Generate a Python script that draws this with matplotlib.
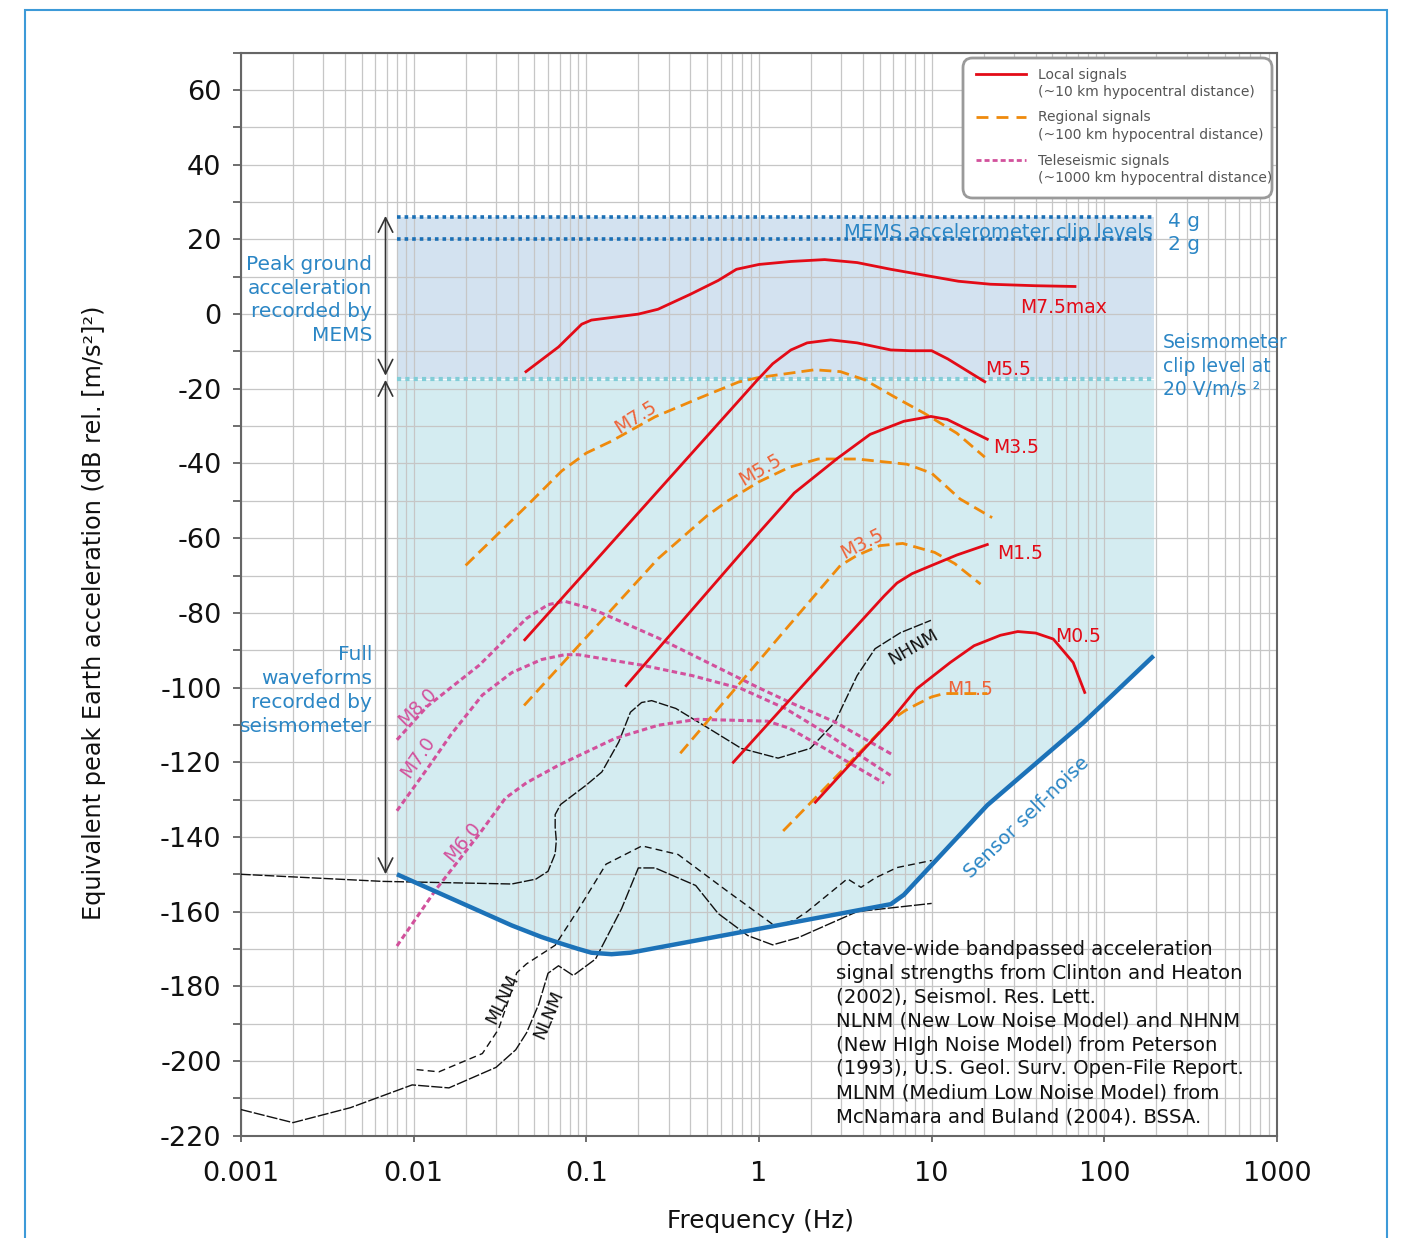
import numpy as np
import matplotlib
matplotlib.use('Agg')
import matplotlib.pyplot as plt
from matplotlib.patches import Rectangle, FancyBboxPatch
from matplotlib.lines import Line2D
from matplotlib.ticker import LogLocator, NullFormatter

plt.rcParams['font.family'] = ['DejaVu Sans']
plt.rcParams['axes.unicode_minus'] = False

# ---------------- data (frequency in Hz, level in dB) ----------------
noise_f = [0.008, 0.037, 0.055, 0.072, 0.09, 0.107, 0.14, 0.18, 1.0, 5.8, 6.9, 8.0, 10, 21, 76, 193]
noise_db = [-150, -163.7, -166.8, -168.6, -170, -171, -171.4, -171, -164.6, -158, -155.5, -152.3, -147.5, -131.5, -109.3, -91.5]

clip_4g_db = 26.0
clip_2g_db = 20.0
seis_clip_db = -17.5

# Local signals (~10 km)
loc_m75max_f = [0.0447, 0.069, 0.094, 0.107, 0.2, 0.26, 0.4, 0.58, 0.74, 1.0, 1.53, 2.4, 3.7, 5.8, 9.1, 14.3, 21.9, 40, 67.6]
loc_m75max_db = [-15.4, -8.8, -2.7, -1.6, 0.0, 1.3, 5.3, 9.0, 12.0, 13.3, 14.1, 14.6, 13.8, 12.0, 10.4, 8.8, 8.0, 7.6, 7.4]
loc_m55_f = [0.044, 0.98, 1.2, 1.53, 1.9, 2.6, 3.7, 5.8, 7.6, 10, 12.4, 20.3]
loc_m55_db = [-87.2, -17.6, -13.3, -9.6, -7.7, -6.9, -7.7, -9.6, -9.8, -9.8, -12.0, -18.1]
loc_m35_f = [0.17, 1.0, 1.6, 2.85, 4.4, 6.9, 9.9, 12.3, 21]
loc_m35_db = [-99.5, -58.5, -47.9, -38.6, -32.2, -28.7, -27.4, -28.2, -33.5]
loc_m15_f = [0.71, 3.0, 5.3, 6.3, 7.7, 10, 14, 21]
loc_m15_db = [-120, -88, -75.5, -72, -69.5, -67.3, -64.5, -61.7]
loc_m05_f = [2.12, 3.7, 5.8, 8.2, 12.8, 17.6, 25, 31.5, 40, 50.6, 66, 77]
loc_m05_db = [-130.7, -118.5, -108.8, -100.3, -93.3, -88.8, -86, -85, -85.4, -87, -93.3, -101.3]

# Regional signals (~100 km)
reg_m75_f = [0.02, 0.046, 0.072, 0.1, 0.14, 0.25, 0.45, 0.76, 0.99, 2.1, 2.96, 4.1, 6.0, 9.1, 14, 20.3]
reg_m75_db = [-67.3, -51, -42, -37.2, -34, -27.5, -22.5, -18.2, -17, -14.9, -15.4, -17.6, -22, -26.6, -31.9, -38.3]
reg_m55_f = [0.0436, 0.26, 0.5, 0.66, 0.99, 1.5, 2.2, 3.7, 7.2, 10, 14.6, 22.4]
reg_m55_db = [-104.8, -65.5, -54, -50, -45, -41, -38.8, -38.8, -40.2, -42.6, -49.5, -54.5]
reg_m35_f = [0.35, 1.34, 2.96, 3.7, 5.0, 6.8, 10.4, 13.6, 19.2]
reg_m35_db = [-117.6, -85.9, -67.3, -64.6, -62.0, -61.4, -63.8, -66.8, -72.3]
reg_m15_f = [1.38, 5.8, 7.0, 8.2, 10, 11.8, 21]
reg_m15_db = [-138.4, -108.8, -106.2, -104.5, -102.5, -101.6, -101.6]

# Teleseismic signals (~1000 km)
tel_m80_f = [0.008, 0.012, 0.024, 0.045, 0.06, 0.075, 0.1, 0.122, 0.26, 0.51, 1.0, 1.5, 2.75, 6.0]
tel_m80_db = [-114, -105, -94, -81.5, -77.8, -76.9, -78.5, -80, -86.7, -93.4, -100.1, -103.9, -109.2, -118.1]
tel_m70_f = [0.008, 0.0123, 0.0165, 0.025, 0.037, 0.055, 0.075, 0.09, 0.21, 0.41, 0.79, 1.42, 2.4, 6.0]
tel_m70_db = [-133, -121, -112.5, -102, -96, -92.5, -91.2, -91.2, -94, -96.8, -100.3, -105.6, -112, -124]
tel_m60_f = [0.008, 0.0135, 0.024, 0.034, 0.045, 0.069, 0.147, 0.26, 0.44, 1.12, 1.5, 2.4, 5.3]
tel_m60_db = [-169.2, -154, -139.2, -129.6, -125.5, -120.8, -113.6, -110.1, -108.5, -109, -110.9, -116.3, -125.6]

# Earth noise models
nhnm_f = [0.001, 0.0066, 0.037, 0.051, 0.06, 0.066, 0.067, 0.066, 0.066, 0.071, 0.1, 0.123, 0.154, 0.18, 0.209, 0.239,
          0.33, 0.51, 0.79, 1.29, 1.98, 2.75, 3.7, 4.7, 6.6, 9.9]
nhnm_db = [-150, -151.9, -152.6, -151.3, -149.2, -144.5, -141, -137.4, -134, -131.3, -126.1, -122.6, -114.6, -106.6, -104, -103.5,
           -105.6, -110.9, -116.3, -118.9, -116.3, -109.3, -96.8, -89.6, -85.3, -82]
nlnm_f = [0.001, 0.002, 0.0043, 0.0098, 0.016, 0.03, 0.039, 0.045, 0.053, 0.06, 0.069, 0.084, 0.113, 0.16, 0.2, 0.25,
          0.43, 0.58, 0.86, 1.2, 1.68, 3.7, 10]
nlnm_db = [-213, -216.5, -212.5, -206.4, -207.2, -201.7, -197, -192.5, -184.8, -176.5, -174.5, -177.1, -172.7, -159.2, -148.3, -148.3,
           -153, -160.5, -166.4, -168.9, -167, -160, -157.8]
mlnm_f = [0.0104, 0.014, 0.025, 0.031, 0.037, 0.0395, 0.045, 0.066, 0.09, 0.13, 0.21, 0.34, 0.65, 1.25, 1.6, 1.9, 3.25, 3.9, 4.7, 6.3, 10]
mlnm_db = [-202.3, -202.9, -198, -191.5, -181.1, -176.4, -174, -169, -159.4, -147.3, -142.4, -144.7, -154.4, -164, -162.3, -160,
           -151.2, -153.5, -151, -148.2, -146.3]

xtick_vals = [1e-3, 1e-2, 1e-1, 1, 10, 100, 1000]
xtick_labels = ['0.001', '0.01', '0.1', '1', '10', '100', '1000']
ytick_vals = list(range(-220, 61, 20))

source_lines = [
    'Octave-wide bandpassed acceleration',
    'signal strengths from Clinton and Heaton',
    '(2002), Seismol. Res. Lett.',
    'NLNM (New Low Noise Model) and NHNM',
    '(New HIgh Noise Model) from Peterson',
    '(1993), U.S. Geol. Surv. Open-File Report.',
    'MLNM (Medium Low Noise Model) from',
    'McNamara and Buland (2004). BSSA.',
]

# ---------------- style ----------------
RED = '#e30b17'
ORANGE = '#ef8a0c'
ORANGE_LBL = '#ee6339'
MAGENTA = '#d2519c'
BLUE = '#1c72b8'
BLUE_TXT = '#2b86c5'
BLACK = '#111111'

W, H = 1404, 1238
fig = plt.figure(figsize=(W / 100, H / 100), dpi=100)
AX_L, AX_R, AX_T, AX_B = 241, 1277, 52.7, 1135.7
ax = fig.add_axes([AX_L / W, 1 - AX_B / H, (AX_R - AX_L) / W, (AX_B - AX_T) / H])


def P(px, py):
    return ((px - AX_L) / (AX_R - AX_L), (AX_B - py) / (AX_B - AX_T))


ax.set_xscale('log')
ax.set_xlim(1e-3, 1e3)
ax.set_ylim(-220, 70)

# fills
ax.fill_between([noise_f[0], noise_f[-1]], seis_clip_db, clip_4g_db, color='#d3e2f0', lw=0, zorder=0.2)
ax.fill_between(noise_f, noise_db, seis_clip_db, color='#d4ecf1', lw=0, zorder=0.2)

# grid
ax.set_axisbelow(True)
ax.set_xticks(xtick_vals)
ax.set_xticklabels(xtick_labels)
ax.xaxis.set_minor_locator(LogLocator(base=10, subs=np.arange(2, 10), numticks=50))
ax.xaxis.set_minor_formatter(NullFormatter())
ax.set_yticks(ytick_vals)
ax.set_yticks(np.arange(-220, 71, 10), minor=True)
ax.grid(True, which='both', color='#c6c6c6', lw=0.9)
ax.tick_params(axis='y', which='both', direction='out', length=6, width=1.2, colors='#555555',
               labelcolor='#111111', labelsize=19.5, pad=8)
ax.tick_params(axis='x', which='major', direction='out', length=4, width=1.2, colors='#555555',
               labelcolor='#111111', labelsize=19.5, pad=14)
ax.tick_params(axis='x', which='minor', length=0)
for s in ax.spines.values():
    s.set_color('#666666')
    s.set_linewidth(1.5)

# clip lines
ax.plot([noise_f[0], noise_f[-1]], [clip_4g_db] * 2, color='#1a6fb5', lw=2.6, ls=(0, (1, 1.1)), zorder=3)
ax.plot([noise_f[0], noise_f[-1]], [clip_2g_db] * 2, color='#1a6fb5', lw=2.6, ls=(0, (1, 1.1)), zorder=3)
ax.plot([noise_f[0], noise_f[-1]], [seis_clip_db] * 2, color='#82cdd7', lw=3.0, ls=(0, (1, 1.0)), zorder=3)

# noise models
ax.plot(nhnm_f, nhnm_db, color=BLACK, lw=1.0, ls=(0, (7, 1.5)), zorder=3)
ax.plot(nlnm_f, nlnm_db, color=BLACK, lw=1.0, ls=(0, (8, 1.5)), zorder=3)
ax.plot(mlnm_f, mlnm_db, color=BLACK, lw=1.0, ls=(0, (5, 3)), zorder=3)

# teleseismic
tel_ls = (0, (1.8, 1.1))
for f, d in [(tel_m80_f, tel_m80_db), (tel_m70_f, tel_m70_db), (tel_m60_f, tel_m60_db)]:
    ax.plot(f, d, color=MAGENTA, lw=2.2, ls=tel_ls, zorder=4)

# regional
reg_ls = (0, (4.3, 2.2))
for f, d in [(reg_m75_f, reg_m75_db), (reg_m55_f, reg_m55_db), (reg_m35_f, reg_m35_db), (reg_m15_f, reg_m15_db)]:
    ax.plot(f, d, color=ORANGE, lw=2.0, ls=reg_ls, zorder=5)

# local
for f, d in [(loc_m75max_f, loc_m75max_db), (loc_m55_f, loc_m55_db), (loc_m35_f, loc_m35_db),
             (loc_m15_f, loc_m15_db), (loc_m05_f, loc_m05_db)]:
    ax.plot(f, d, color=RED, lw=2.0, zorder=6)

# self-noise
ax.plot(noise_f, noise_db, color=BLUE, lw=3.2, zorder=7, solid_capstyle='butt')

# arrows
arrow_f = 0.00687
akw = dict(arrowstyle='<->', color='#333333', lw=1.2, shrinkA=0, shrinkB=0, mutation_scale=26)
ax.annotate('', xy=(arrow_f, clip_4g_db + 0.3), xytext=(arrow_f, seis_clip_db + 1.0), arrowprops=akw, zorder=8)
ax.annotate('', xy=(arrow_f, seis_clip_db - 0.1), xytext=(arrow_f, noise_db[0]), arrowprops=akw, zorder=8)


def T(px, py, s, **kw):
    kw.setdefault('transform', ax.transAxes)
    kw.setdefault('clip_on', False)
    return ax.text(*P(px, py), s, **kw)


# blue texts
for i, s in enumerate(['Peak ground', 'acceleration', 'recorded by', 'MEMS']):
    T(372, 270 + 23.7 * i, s, ha='right', va='baseline', color=BLUE_TXT, fontsize=14.5)
for i, s in enumerate(['Full', 'waveforms', 'recorded by', 'seismometer']):
    T(372, 660 + 24 * i, s, ha='right', va='baseline', color=BLUE_TXT, fontsize=14.5)
T(1153, 238, 'MEMS accelerometer clip levels', ha='right', va='baseline', color=BLUE_TXT, fontsize=14, zorder=9)
T(1168, 227, '4 g', ha='left', va='baseline', color=BLUE_TXT, fontsize=14.5)
T(1168, 250, '2 g', ha='left', va='baseline', color=BLUE_TXT, fontsize=14.5)
for i, s in enumerate(['Seismometer', 'clip level at', '20 V/m/s \u00b2']):
    T(1163, 348 + 23.6 * i, s, ha='left', va='baseline', color=BLUE_TXT, fontsize=13.5)
T(1027, 818, 'Sensor self-noise', ha='center', va='center', rotation=44, rotation_mode='anchor',
  color=BLUE_TXT, fontsize=14)

# red labels
for px, py, s in [(1020, 313, 'M7.5max'), (985, 375, 'M5.5'), (993, 453, 'M3.5'), (997, 559, 'M1.5'), (1055, 642, 'M0.5')]:
    T(px, py, s, ha='left', va='baseline', color=RED, fontsize=13.5)

# orange labels
for px, py, s, r in [(636, 417, 'M7.5', 32), (760, 470, 'M5.5', 30), (862, 544, 'M3.5', 27)]:
    T(px, py, s, ha='center', va='center', rotation=r, rotation_mode='anchor', color=ORANGE_LBL, fontsize=13.5)
T(947, 695, 'M1.5', ha='left', va='baseline', color=ORANGE_LBL, fontsize=13.5)

# magenta labels
for px, py, s, r in [(417, 707, 'M8.0', 45), (418, 757, 'M7.0', 55), (463, 842, 'M6.0', 50)]:
    T(px, py, s, ha='center', va='center', rotation=r, rotation_mode='anchor', color=MAGENTA, fontsize=13.5)

# noise model labels
for px, py, s, r in [(913, 647, 'NHNM', 30), (502, 999, 'MLNM', 64), (549, 1015, 'NLNM', 67)]:
    T(px, py, s, ha='center', va='center', rotation=r, rotation_mode='anchor', color=BLACK, fontsize=12.5)

# source text
for i, s in enumerate(source_lines):
    T(836, 955 + 23.9 * i, s, ha='left', va='baseline', color=BLACK, fontsize=14.2)

# legend (drawn by hand)
x0, y0 = P(963, 198)
x1, y1 = P(1272, 58)
box = FancyBboxPatch((x0, y0), x1 - x0, y1 - y0, boxstyle='round,pad=0,rounding_size=0.009',
                     transform=ax.transAxes, facecolor='white', edgecolor='#9a9a9a', lw=2, zorder=10)
ax.add_patch(box)
leg_items = [
    (RED, '-', 74, 'Local signals', '(~10 km hypocentral distance)'),
    (ORANGE, (0, (4.3, 2.9)), 117, 'Regional signals', '(~100 km hypocentral distance)'),
    (MAGENTA, (0, (1.8, 1.1)), 160, 'Teleseismic signals', '(~1000 km hypocentral distance)'),
]
for col, ls, py, l1, l2 in leg_items:
    a, b = P(976, py)
    c, _ = P(1026, py)
    ax.add_line(Line2D([a, c], [b, b], transform=ax.transAxes, color=col, lw=2, ls=ls, zorder=11))
    T(1038, py + 4.5, l1, ha='left', va='baseline', color='#555555', fontsize=10, zorder=11)
    T(1038, py + 22, l2, ha='left', va='baseline', color='#555555', fontsize=10, zorder=11)

# axis labels
ax.set_ylabel('Equivalent peak Earth acceleration (dB rel. [m/s\u00b2]\u00b2)', fontsize=17.3, color='#111111')
ax.yaxis.set_label_coords(-0.13, 0.483)
ax.set_xlabel('Frequency (Hz)', fontsize=17.8, color='#111111')
ax.xaxis.set_label_coords(0.501, -0.068)

# outer frame
fig.add_artist(Rectangle((25 / W, -0.05), (1387 - 25) / W, 1.05 - 10 / H, transform=fig.transFigure,
                         fill=False, edgecolor='#3d9ad8', lw=1.5))

fig.savefig('out.png', dpi=100)
